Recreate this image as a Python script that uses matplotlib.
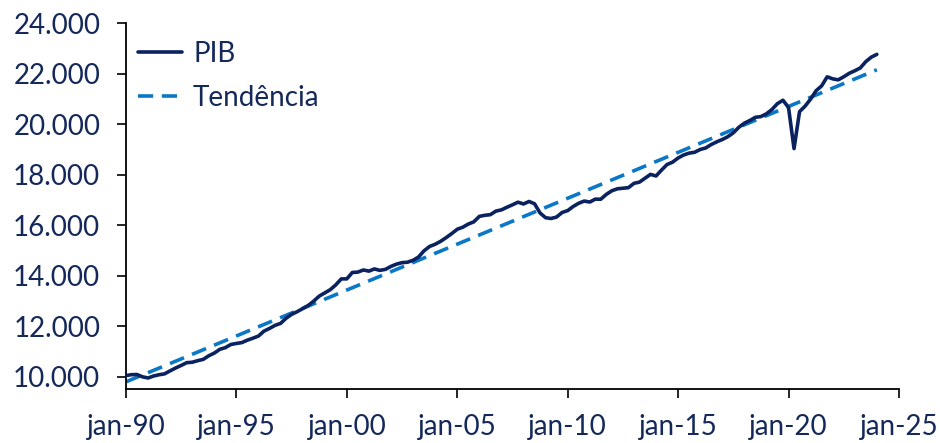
import matplotlib
matplotlib.use("Agg")
import matplotlib.pyplot as plt
import pandas as pd

plt.rcParams['font.family'] = ['Lato', 'DejaVu Sans']

# Quarterly real GDP (billions), 1990Q1 - 2024Q1
pib_values = [
    10047, 10083, 10090, 9998,
    9952, 10030, 10080, 10116,
    10236, 10348, 10449, 10558,
    10576, 10638, 10689, 10833,
    10939, 11087, 11153, 11279,
    11320, 11354, 11450, 11528,
    11614, 11808, 11914, 12037,
    12115, 12317, 12471, 12577,
    12703, 12822, 12994, 13194,
    13322, 13447, 13637, 13876,
    13878, 14131, 14146, 14230,
    14184, 14272, 14214, 14254,
    14373, 14461, 14520, 14538,
    14614, 14744, 14989, 15162,
    15248, 15366, 15512, 15671,
    15845, 15923, 16048, 16137,
    16353, 16396, 16420, 16561,
    16611, 16713, 16809, 16915,
    16844, 16943, 16854, 16485,
    16299, 16269, 16327, 16508,
    16582, 16744, 16872, 16960,
    16920, 17035, 17032, 17223,
    17367, 17445, 17469, 17490,
    17662, 17709, 17860, 18016,
    17953, 18185, 18406, 18500,
    18666, 18782, 18857, 18892,
    19002, 19063, 19198, 19305,
    19398, 19507, 19660, 19882,
    20044, 20150, 20276, 20305,
    20415, 20585, 20818, 20952,
    20666, 19036, 20500, 20720,
    21000, 21330, 21520, 21880,
    21800, 21760, 21880, 22020,
    22120, 22230, 22480, 22660,
    22770,
]
pib_start = "1990-01-01"

trend_dates = ["1990-01-01", "2024-01-01"]
trend_values = [9800, 22160]

y_ticks = [10000, 12000, 14000, 16000, 18000, 20000, 22000, 24000]
y_labels = ["10.000", "12.000", "14.000", "16.000", "18.000", "20.000", "22.000", "24.000"]
x_ticks = ["1990-01-01", "1995-01-01", "2000-01-01", "2005-01-01",
           "2010-01-01", "2015-01-01", "2020-01-01", "2025-01-01"]
x_labels = ["jan-90", "jan-95", "jan-00", "jan-05", "jan-10", "jan-15", "jan-20", "jan-25"]

navy = "#0b2260"
blue = "#0a78c6"
text_color = "#14295a"

fig = plt.figure(figsize=(9.4, 4.43), dpi=100)
ax = fig.add_axes([126/940, 1-389.4/443, (899-126)/940, (389.4-23.3)/443])

pib_dates = pd.date_range(pib_start, periods=len(pib_values), freq="QS")
ax.plot(pib_dates, pib_values, color=navy, lw=2.6, label="PIB", solid_capstyle="round",
        solid_joinstyle="round", zorder=3)
ax.plot(pd.to_datetime(trend_dates), trend_values, color=blue, lw=2.6,
        dashes=(4.2, 2.4), label="Tendência", dash_capstyle="butt", zorder=2)

ax.set_ylim(9500, 24000)
ax.set_xlim(pd.Timestamp("1990-01-01"), pd.Timestamp("2025-01-01"))
ax.set_yticks(y_ticks)
ax.set_yticklabels(y_labels)
ax.set_xticks(pd.to_datetime(x_ticks))
ax.set_xticklabels(x_labels)

for s in ["top", "right"]:
    ax.spines[s].set_visible(False)
for s in ["left", "bottom"]:
    ax.spines[s].set_linewidth(1.3)
    ax.spines[s].set_color("black")

ax.tick_params(axis="both", direction="out", length=6.5, width=1.2, color="black",
               labelsize=20, labelcolor=text_color)
ax.tick_params(axis="y", pad=12)
ax.tick_params(axis="x", pad=11)

leg = ax.legend(loc="upper left", bbox_to_anchor=(138/940, 1-40.5/443),
                bbox_transform=fig.transFigure, frameon=False,
                fontsize=20, handlelength=1.58, handletextpad=0.4,
                labelspacing=0.65, borderaxespad=0, borderpad=0)
for t in leg.get_texts():
    t.set_color(text_color)

fig.savefig("out.png", dpi=100)
